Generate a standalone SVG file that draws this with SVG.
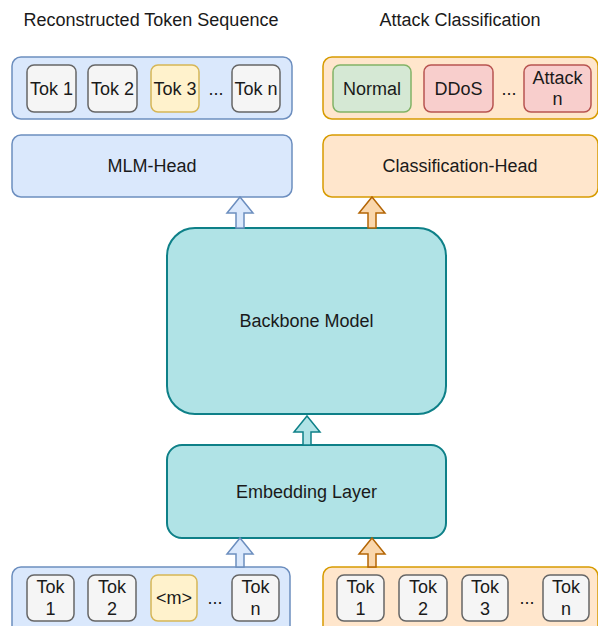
<svg xmlns="http://www.w3.org/2000/svg" width="598" height="626" viewBox="0 0 598 626">
<style>
text{font-family:"Liberation Sans",Arial,sans-serif;font-size:18px;fill:#1a1a1a;text-anchor:middle}
.blue{fill:#dae8fc;stroke:#6c8ebf;stroke-width:1.5}
.orange{fill:#ffe6cc;stroke:#d79b00;stroke-width:1.5}
.grey{fill:#f5f5f5;stroke:#666666;stroke-width:1.5}
.yellow{fill:#fff2cc;stroke:#d6b656;stroke-width:1.5}
.green{fill:#d5e8d4;stroke:#82b366;stroke-width:1.5}
.red{fill:#f8cecc;stroke:#b85450;stroke-width:1.5}
.teal{fill:#b0e3e6;stroke:#0e8088;stroke-width:2}
.abl{fill:#dae8fc;stroke:#6c8ebf;stroke-width:1.5}
.aor{fill:#fad7ac;stroke:#b46504;stroke-width:1.5}
.ate{fill:#b0e3e6;stroke:#0e8088;stroke-width:1.5}
</style>
<rect width="598" height="626" fill="#ffffff"/>
<g id="titles">
<text x="151" y="26">Reconstructed Token Sequence</text>
<text x="460" y="26">Attack Classification</text>
</g>
<g id="output-tokens">
<rect class="blue" x="12" y="57" width="280" height="62" rx="9"/>
<rect class="grey" x="27" y="65" width="49" height="47" rx="7"/><text x="51.5" y="95">Tok 1</text>
<rect class="grey" x="88" y="65" width="49" height="47" rx="7"/><text x="112.5" y="95">Tok 2</text>
<rect class="yellow" x="151" y="65" width="48" height="47" rx="7"/><text x="175" y="95">Tok 3</text>
<text x="216" y="95">...</text>
<rect class="grey" x="232" y="65" width="48" height="47" rx="7"/><text x="256" y="95">Tok n</text>
</g>
<g id="attack-classes">
<rect class="orange" x="323" y="57" width="275" height="62" rx="9"/>
<rect class="green" x="333" y="65" width="78" height="47" rx="7"/><text x="372" y="95">Normal</text>
<rect class="red" x="424" y="65" width="69" height="47" rx="7"/><text x="458.5" y="95">DDoS</text>
<text x="509" y="95">...</text>
<rect class="red" x="524" y="65" width="67" height="47" rx="7"/><text x="557.5" y="84">Attack</text><text x="557.5" y="105">n</text>
</g>
<g id="mlm-head">
<rect class="blue" x="12" y="135" width="280" height="62" rx="9"/>
<text x="152" y="172">MLM-Head</text>
</g>
<g id="classification-head">
<rect class="orange" x="323" y="135" width="275" height="62" rx="9"/>
<text x="460" y="172">Classification-Head</text>
</g>
<g id="backbone">
<rect class="teal" x="167" y="228" width="279" height="186" rx="28"/>
<text x="306.5" y="327">Backbone Model</text>
</g>
<g id="embedding">
<rect class="teal" x="167" y="445" width="279" height="93" rx="15"/>
<text x="306.5" y="498">Embedding Layer</text>
</g>
<g id="masked-input">
<rect class="blue" x="12" y="567" width="278" height="70" rx="9"/>
<rect class="grey" x="27" y="575" width="47" height="46" rx="7"/><text x="50.5" y="593">Tok</text><text x="50.5" y="615">1</text>
<rect class="grey" x="88" y="575" width="48" height="46" rx="7"/><text x="112" y="593">Tok</text><text x="112" y="615">2</text>
<rect class="yellow" x="151" y="575" width="46" height="46" rx="7"/><text x="174" y="604">&lt;m&gt;</text>
<text x="215" y="604">...</text>
<rect class="grey" x="232" y="575" width="47" height="46" rx="7"/><text x="255.5" y="593">Tok</text><text x="255.5" y="615">n</text>
</g>
<g id="input">
<rect class="orange" x="323" y="567" width="275" height="70" rx="9"/>
<rect class="grey" x="337" y="575" width="47" height="46" rx="7"/><text x="360.5" y="593">Tok</text><text x="360.5" y="615">1</text>
<rect class="grey" x="399" y="575" width="48" height="46" rx="7"/><text x="423" y="593">Tok</text><text x="423" y="615">2</text>
<rect class="grey" x="462" y="575" width="46" height="46" rx="7"/><text x="485" y="593">Tok</text><text x="485" y="615">3</text>
<text x="527" y="604">...</text>
<rect class="grey" x="543" y="575" width="46" height="46" rx="7"/><text x="566" y="593">Tok</text><text x="566" y="615">n</text>
</g>
<g id="connectors">
<path class="abl" d="M240 197 L253 213 L244 213 L244 228 L236 228 L236 213 L227 213 Z"/>
<path class="aor" d="M372 197 L385 213 L376 213 L376 228 L368 228 L368 213 L359 213 Z"/>
<path class="ate" d="M307 416 L320 432 L311 432 L311 445 L303 445 L303 432 L294 432 Z"/>
<path class="abl" d="M240 538 L253 554 L244 554 L244 567 L236 567 L236 554 L227 554 Z"/>
<path class="aor" d="M372 538 L385 554 L376 554 L376 567 L368 567 L368 554 L359 554 Z"/>
</g>
</svg>
